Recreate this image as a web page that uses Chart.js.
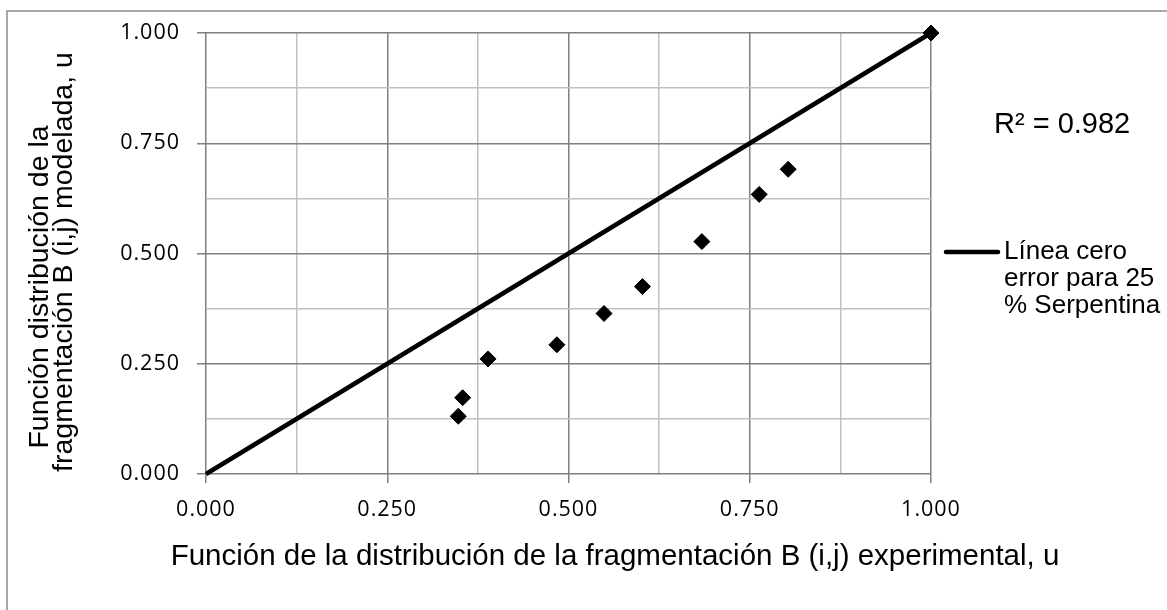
<!DOCTYPE html>
<html>
<head>
<meta charset="utf-8">
<script src="https://cdn.jsdelivr.net/npm/chart.js@4.4.0/dist/chart.umd.min.js"></script>
<style>
    html, body { margin: 0; padding: 0; background: #fff; }
    #wrap { width: 1167px; height: 610px; }
</style>
</head>
<body>
<div id="wrap"><canvas id="chart" width="1167" height="610"></canvas></div>
<script>
// experimental vs modelled B(i,j)
const expX = [0.348, 0.354, 0.389, 0.484, 0.549, 0.602, 0.684, 0.763, 0.803, 1.000];
const modY = [0.131, 0.173, 0.261, 0.293, 0.364, 0.425, 0.527, 0.634, 0.691, 1.000];

// zero-error line
const lineX = [0, 1];
const lineY = [0, 1];

const legendLines = ['Línea cero', 'error para 25', '% Serpentina'];
const r2Text = 'R² = 0.982';
const xTitle = 'Función de la distribución de la fragmentación B (i,j) experimental, u';
const yTitle = ['Función distribución de la', 'fragmentación B (i,j) modelada, u'];

const TEXT_FONT = '"Liberation Sans", Arial, sans-serif';
const TICK_FONT = '"Open Sans", "Noto Sans", sans-serif';

function isMajor(v) {
    return Math.abs(v * 4 - Math.round(v * 4)) < 1e-6;
}

const gridOpts = {
    color: ctx => isMajor(ctx.tick.value) ? '#808080' : '#c0c0c0',
    tickColor: ctx => isMajor(ctx.tick.value) ? '#808080' : 'rgba(0,0,0,0)',
    lineWidth: 1.5,
    tickLength: 9,
    drawTicks: true
};

const extras = {
    id: 'extras',
    beforeDraw(chart) {
        const c = chart.ctx;
        c.save();
        c.fillStyle = '#fff';
        c.fillRect(0, 0, chart.width, chart.height);
        c.strokeStyle = '#8c8c8c';
        c.lineWidth = 1.5;
        c.beginPath();
        c.moveTo(7, chart.height);
        c.lineTo(7, 11);
        c.lineTo(chart.width, 11);
        c.stroke();
        c.restore();
        // tick labels are a little wider spaced in the original
        c.letterSpacing = '1px';
    },
    afterDraw(chart) {
        const c = chart.ctx;
        c.letterSpacing = '0px';
        c.save();
        c.fillStyle = '#000';
        c.font = '29.5px ' + TEXT_FONT;
        c.textAlign = 'center';
        c.textBaseline = 'alphabetic';
        c.fillText(xTitle, 615, 565);

        c.font = '28.5px ' + TEXT_FONT;
        c.save();
        c.translate(48, 287);
        c.rotate(-Math.PI / 2);
        c.fillText(yTitle[0], 0, 0);
        c.restore();
        c.save();
        c.translate(72, 262);
        c.rotate(-Math.PI / 2);
        c.fillText(yTitle[1], 0, 0);
        c.restore();

        c.font = '29px ' + TEXT_FONT;
        c.textAlign = 'left';
        c.fillText(r2Text, 994, 133);

        // legend
        c.font = '26px ' + TEXT_FONT;
        c.strokeStyle = '#000';
        c.lineWidth = 4.5;
        c.lineCap = 'round';
        c.beginPath();
        c.moveTo(946, 252);
        c.lineTo(998, 252);
        c.stroke();
        legendLines.forEach((t, i) => {
            c.fillText(t, 1004, 259 + i * 27);
        });
        c.restore();
    }
};

const ctx = document.getElementById('chart').getContext('2d');
const chart = new Chart(ctx, {
    type: 'scatter',
    data: {
        datasets: [{
            label: legendLines.join(' '),
            data: lineX.map((x, i) => ({x: x, y: lineY[i]})),
            showLine: true,
            borderColor: '#000',
            borderWidth: 4.5,
            pointRadius: 0,
            clip: false
        }, {
            label: 'datos',
            data: expX.map((x, i) => ({x: x, y: modY[i]})),
            pointStyle: 'rectRot',
            pointRadius: 8,
            backgroundColor: '#000',
            borderColor: '#000',
            borderWidth: 1,
            clip: false
        }]
    },
    options: {
        responsive: false,
        animation: false,
        layout: {
            padding: {left: 0, top: 33, right: 236, bottom: 0}
        },
        plugins: {
            legend: {display: false},
            tooltip: {enabled: false}
        },
        scales: {
            x: {
                type: 'linear',
                min: 0,
                max: 1,
                afterFit: s => { s.height = 136; },
                ticks: {
                    stepSize: 0.125,
                    autoSkip: false,
                    maxRotation: 0,
                    padding: 14,
                    color: '#000',
                    font: {family: TICK_FONT, size: 21.5},
                    callback: v => isMajor(v) ? v.toFixed(3) : ''
                },
                grid: gridOpts,
                border: {display: false}
            },
            y: {
                type: 'linear',
                min: 0,
                max: 1,
                afterFit: s => { s.width = 206; },
                ticks: {
                    stepSize: 0.125,
                    autoSkip: false,
                    padding: 17,
                    color: '#000',
                    font: {family: TICK_FONT, size: 21.5},
                    callback: v => isMajor(v) ? v.toFixed(3) : ''
                },
                grid: gridOpts,
                border: {display: false}
            }
        }
    },
    plugins: [extras]
});
</script>
</body>
</html>
